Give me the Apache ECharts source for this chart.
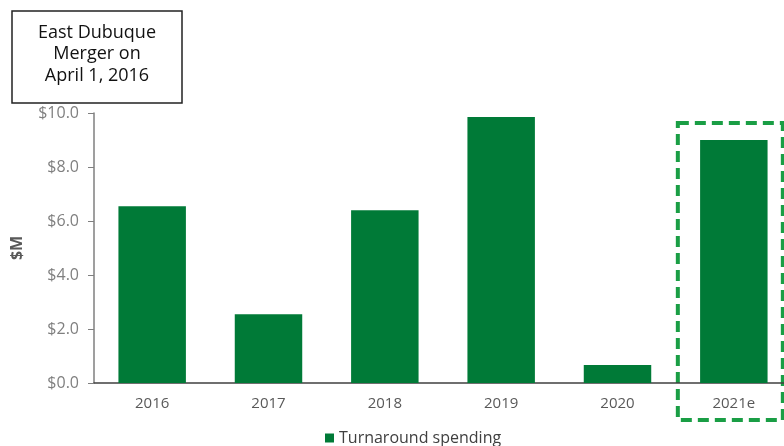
<!DOCTYPE html>
<html>
<head>
<meta charset="utf-8">
<script src="https://cdn.jsdelivr.net/npm/echarts@6/dist/echarts.min.js"></script>
<style>
  html, body { margin: 0; padding: 0; background: #fff; }
  #chart { width: 784px; height: 446px; }
</style>
</head>
<body>
<div id="chart"></div>
<script>
var years = ['2016', '2017', '2018', '2019', '2020', '2021e'];
var spending = [6.55, 2.55, 6.4, 9.85, 0.67, 9.0];
var seriesName = 'Turnaround spending';
var noteLines = ['East Dubuque', 'Merger on', 'April 1, 2016'];
var highlightYear = '2021e';

var green = '#007a37';
var font = 'Open Sans';

var myChart = echarts.init(document.getElementById('chart'));
var option = {
    backgroundColor: '#fff',
    textStyle: { fontFamily: font },
    animation: false,
    // plot runs slightly past the right edge, like the source slide
    grid: { left: 94, top: 113, width: 698, height: 270, containLabel: false, outerBoundsMode: 'none' },
    legend: {
        top: 425,
        left: 320,
        itemWidth: 9,
        itemHeight: 9,
        itemGap: 4,
        icon: 'rect',
        textStyle: { color: '#404040', fontSize: 16, fontFamily: font },
        data: [seriesName]
    },
    xAxis: {
        type: 'category',
        data: years,
        axisLine: { lineStyle: { color: '#404040', width: 1.5 } },
        axisTick: { show: false },
        axisLabel: { color: '#595959', fontSize: 15, margin: 13, fontFamily: font }
    },
    yAxis: {
        type: 'value',
        min: 0,
        max: 10,
        interval: 2,
        name: '$M',
        nameLocation: 'middle',
        nameGap: 69,
        nameRotate: 90,
        nameTextStyle: { color: '#595959', fontSize: 16, fontWeight: 'bold', fontFamily: font },
        axisLine: { show: true, lineStyle: { color: '#7f7f7f', width: 1.5 } },
        axisTick: { show: true, length: 6, lineStyle: { color: '#7f7f7f' } },
        splitLine: { show: false },
        axisLabel: {
            color: '#7f7f7f', fontSize: 16, margin: 15, fontFamily: font,
            formatter: function (v) { return '$' + v.toFixed(1); }
        }
    },
    series: [{
        name: seriesName,
        type: 'bar',
        barWidth: '58%',
        itemStyle: { color: green },
        data: spending
    }]
};
myChart.setOption(option);

// note box + dashed highlight around the estimate bar
var c = myChart.convertToPixel({ xAxisIndex: 0 }, highlightYear);
var top10 = myChart.convertToPixel({ yAxisIndex: 0 }, 10);
myChart.setOption({
    graphic: [
        {
            type: 'rect',
            shape: { x: 12, y: 11, width: 170, height: 92 },
            style: { fill: '#fff', stroke: '#222', lineWidth: 1.5 }
        },
        {
            type: 'text',
            x: 97, y: 54,
            style: {
                text: noteLines.join('\n'),
                align: 'center', verticalAlign: 'middle',
                fontSize: 18, lineHeight: 21.5, fill: '#111', fontFamily: font
            }
        },
        {
            type: 'rect',
            shape: { x: c - 56, y: top10 + 10, width: 105, height: 297 },
            style: { fill: 'none', stroke: '#1a9e45', lineWidth: 4, lineDash: [11, 6] }
        }
    ]
});
</script>
</body>
</html>
